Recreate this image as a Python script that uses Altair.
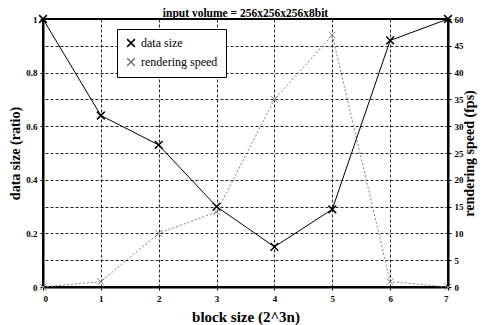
import altair as alt
import pandas as pd

block_size = [0, 1, 2, 3, 4, 5, 6, 7]
data_size = [1.0, 0.64, 0.53, 0.30, 0.15, 0.29, 0.92, 1.0]
render_speed = [0, 1, 10, 14, 35, 47, 1, 0]
series_names = ["data size", "rendering speed"]
series_colors = ["#000000", "#808080"]
left_ticks = [0, 0.2, 0.4, 0.6, 0.8, 1.0]
right_ticks = [0, 5, 10, 15, 20, 25, 30, 35, 40, 45, 50]

df1 = pd.DataFrame({"x": block_size, "y": data_size, "s": series_names[0]})
df2 = pd.DataFrame({"x": block_size, "y": render_speed, "s": series_names[1]})

xpath = "M-1,-1L1,1M1,-1L-1,1"
FONT = "Liberation Serif"

xenc = alt.X("x:Q", scale=alt.Scale(domain=[0, 7], nice=False),
             axis=alt.Axis(values=block_size, format="d", title="block size (2^3n)",
                           titleFontSize=15, titleFontWeight="bold", labelFontSize=9,
                           labelFontWeight="bold", grid=True, gridDash=[3, 2],
                           gridColor="#000", gridOpacity=0.85, domainColor="#000",
                           domainWidth=2, tickColor="#000", tickSize=3, labelPadding=4,
                           titlePadding=6))
color = alt.Color("s:N", scale=alt.Scale(domain=series_names, range=series_colors),
                  legend=alt.Legend(title=None, orient="none", legendX=74, legendY=10,
                                    fillColor="white", strokeColor="#000", padding=8,
                                    labelFont=FONT, labelFontWeight="normal",
                                    labelFontSize=12, symbolType=xpath,
                                    symbolSize=60, symbolStrokeWidth=1.5, rowPadding=5,
                                    labelLimit=200))

left_axis = alt.Axis(values=left_ticks, title="data size (ratio)",
                     titleFontSize=14, titleFontWeight="bold", labelFontSize=9,
                     labelFontWeight="bold", grid=False, domainColor="#000", domainWidth=2,
                     tickColor="#000", tickSize=3, labelPadding=3, titlePadding=3,
                     labelOverlap=False,
                     labelExpr="datum.value == 0 ? '0' : datum.value == 1 ? '1' : format(datum.value, '.1f')")

l1 = alt.Chart(df1).mark_line(color="#000", strokeWidth=1).encode(
    x=xenc, y=alt.Y("y:Q", scale=alt.Scale(domain=[0, 1], nice=False), axis=left_axis))
p1 = alt.Chart(df1).mark_point(shape=xpath, size=60, filled=False, strokeWidth=1.5, opacity=1).encode(
    x="x:Q", y=alt.Y("y:Q", scale=alt.Scale(domain=[0, 1], nice=False), axis=left_axis), color=color)
left = alt.layer(l1, p1)

right_axis = alt.Axis(values=right_ticks, title="rendering speed (fps)", orient="right",
                      titleFontSize=14, titleFontWeight="bold", labelFontSize=9,
                      labelFontWeight="bold", grid=True, gridDash=[3, 2], gridColor="#000",
                      gridOpacity=0.85, domainColor="#000", domainWidth=2,
                      tickColor="#000", tickSize=3, labelPadding=3, titlePadding=13,
                      titleAngle=270, labelOverlap=False,
                      labelExpr="datum.value == 50 ? '60' : datum.label")
l2 = alt.Chart(df2).mark_line(color="#808080", strokeWidth=1, strokeDash=[2, 2]).encode(
    x="x:Q", y=alt.Y("y:Q", scale=alt.Scale(domain=[0, 50], nice=False), axis=right_axis))
p2 = alt.Chart(df2).mark_point(shape=xpath, size=45, filled=False, strokeWidth=1, opacity=1).encode(
    x="x:Q", y=alt.Y("y:Q", scale=alt.Scale(domain=[0, 50], nice=False), axis=right_axis), color=color)
right = alt.layer(l2, p2)

chart = alt.layer(right, left).resolve_scale(y="independent").properties(
    width=405, height=268,
    title=alt.TitleParams("input volume = 256x256x256x8bit", fontSize=11.5, font=FONT,
                          fontWeight="bold", offset=0, dy=7),
    autosize=alt.AutoSizeParams(type="none"),
    padding={"left": 35, "top": 11, "right": 31, "bottom": 38},
).configure(font=FONT).configure_view(stroke="#000", strokeWidth=2).configure_axis(
    labelFont=FONT, titleFont=FONT).configure_legend(labelFont=FONT)

chart.save("out.html", embed_options={"renderer": "svg", "actions": False})
